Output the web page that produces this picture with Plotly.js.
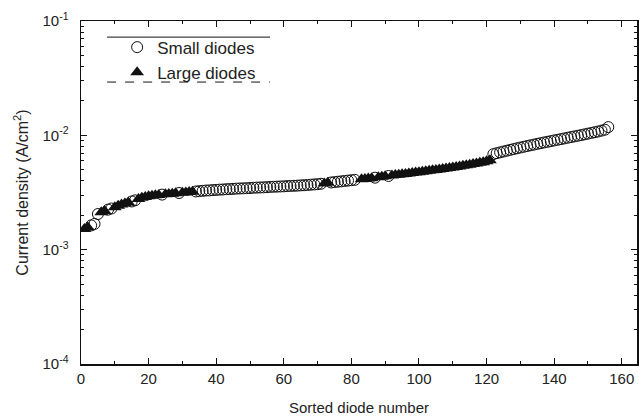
<!DOCTYPE html>
<html>
<head>
<meta charset="utf-8">
<script src="https://cdn.plot.ly/plotly-3.0.1.min.js"></script>
<style>html,body{margin:0;padding:0;background:#fff;}#chart{width:639px;height:418px;}</style>
</head>
<body>
<div id="chart"></div>
<script>
// Small diodes (open circles): sorted diode number and current density (A/cm^2)
const smallN = [3,4,5,8,9,15,16,24,29,34,
  35,36,37,38,39,40,41,42,43,44,45,46,47,48,49,50,51,52,53,54,55,56,57,58,59,60,61,62,63,64,65,66,67,68,69,70,71,
  74,75,76,77,78,79,80,81,87,91,
  122,123,124,125,126,127,128,129,130,131,132,133,134,135,136,137,138,139,140,141,142,143,144,145,146,147,148,149,150,151,152,153,154,155,156];
const smallJ = [1.63e-3,1.68e-3,2.05e-3,2.24e-3,2.29e-3,2.64e-3,2.70e-3,3.03e-3,3.13e-3,3.23e-3,
  3.25e-3,3.27e-3,3.29e-3,3.30e-3,3.32e-3,3.33e-3,3.35e-3,3.36e-3,3.38e-3,3.39e-3,3.40e-3,3.42e-3,3.43e-3,3.44e-3,3.45e-3,3.46e-3,3.48e-3,3.49e-3,3.50e-3,3.51e-3,3.52e-3,3.54e-3,3.55e-3,3.56e-3,3.57e-3,3.58e-3,3.60e-3,3.61e-3,3.62e-3,3.63e-3,3.65e-3,3.66e-3,3.68e-3,3.70e-3,3.72e-3,3.74e-3,3.77e-3,
  3.87e-3,3.90e-3,3.93e-3,3.96e-3,3.99e-3,4.02e-3,4.05e-3,4.08e-3,4.26e-3,4.41e-3,
  6.85e-3,6.98e-3,7.10e-3,7.22e-3,7.34e-3,7.46e-3,7.58e-3,7.70e-3,7.82e-3,7.94e-3,8.06e-3,8.18e-3,8.30e-3,8.42e-3,8.54e-3,8.66e-3,8.78e-3,8.90e-3,9.02e-3,9.14e-3,9.27e-3,9.40e-3,9.53e-3,9.66e-3,9.79e-3,9.92e-3,10.05e-3,10.2e-3,10.35e-3,10.5e-3,10.65e-3,10.8e-3,11.0e-3,11.2e-3,11.8e-3];

// Large diodes (filled triangles)
const largeN = [1,2,6,7,10,11,12,13,14,17,18,19,20,21,22,23,25,26,27,28,30,31,32,33,
  72,73,83,84,85,86,88,89,90,
  92,93,94,95,96,97,98,99,100,101,102,103,104,105,106,107,108,109,110,111,112,113,114,115,116,117,118,119,120,121];
const largeJ = [1.52e-3,1.57e-3,2.12e-3,2.18e-3,2.35e-3,2.42e-3,2.48e-3,2.53e-3,2.58e-3,2.78e-3,2.84e-3,2.89e-3,2.93e-3,2.96e-3,2.99e-3,3.01e-3,3.05e-3,3.07e-3,3.09e-3,3.11e-3,3.15e-3,3.17e-3,3.19e-3,3.21e-3,
  3.80e-3,3.84e-3,4.12e-3,4.16e-3,4.19e-3,4.22e-3,4.30e-3,4.34e-3,4.38e-3,
  4.45e-3,4.49e-3,4.53e-3,4.56e-3,4.60e-3,4.64e-3,4.68e-3,4.72e-3,4.76e-3,4.80e-3,4.85e-3,4.89e-3,4.94e-3,4.98e-3,5.03e-3,5.08e-3,5.13e-3,5.18e-3,5.23e-3,5.29e-3,5.35e-3,5.41e-3,5.47e-3,5.53e-3,5.60e-3,5.67e-3,5.75e-3,5.83e-3,5.92e-3,6.05e-3];

const yTickVals = [1e-4, 1e-3, 1e-2, 1e-1];
const yTickText = ['10<sup>-4</sup>', '10<sup>-3</sup>', '10<sup>-2</sup>', '10<sup>-1</sup>'];
const xTickVals = [0,20,40,60,80,100,120,140,160];
const seriesNames = ['Small diodes', 'Large diodes'];

const FONT = 'Liberation Sans, Arial, sans-serif';
const traces = [
  {x: smallN, y: smallJ, name: seriesNames[0], type: 'scatter', mode: 'markers',
   marker: {symbol: 'circle', size: 11, color: 'rgba(255,255,255,0)', line: {color: '#111', width: 1}}},
  {x: largeN, y: largeJ, name: seriesNames[1], type: 'scatter', mode: 'markers',
   marker: {symbol: 'triangle-up', size: 12, color: '#111', line: {width: 0}}}
];

const layout = {
  width: 639, height: 418,
  margin: {l: 81, r: 2, t: 21, b: 54},
  paper_bgcolor: '#fff', plot_bgcolor: '#fff',
  font: {family: FONT, size: 15, color: '#222'},
  showlegend: true,
  legend: {x: 0.065, y: 0.975, xanchor: 'left', yanchor: 'top', bgcolor: 'rgba(0,0,0,0)',
           font: {family: FONT, size: 17, color: '#222'}, tracegroupgap: 0, itemwidth: 30},
  xaxis: {
    range: [0, 164.5], tickvals: xTickVals, ticks: 'inside', ticklen: 6, tickwidth: 1, tickcolor: '#111',
    showline: true, linecolor: '#111', linewidth: 1.5, mirror: 'allticks', showgrid: false, zeroline: false,
    minor: {dtick: 10, tick0: 0, ticks: 'inside', ticklen: 3, tickcolor: '#111', showgrid: false},
    title: {text: 'Sorted diode number', font: {family: FONT, size: 15, color: '#222'}, standoff: 17},
    tickfont: {family: FONT, size: 15, color: '#222'}
  },
  yaxis: {
    type: 'log', range: [-4, -1], tickvals: yTickVals, ticktext: yTickText,
    ticks: 'inside', ticklen: 6, tickwidth: 1, tickcolor: '#111', ticklabelstandoff: 8,
    showline: true, linecolor: '#111', linewidth: 1.5, mirror: 'allticks', showgrid: false, zeroline: false,
    minor: {dtick: 'D1', ticks: 'inside', ticklen: 3, tickcolor: '#111', showgrid: false},
    title: {text: 'Current density (A/cm<sup>2</sup>)', font: {family: FONT, size: 16, color: '#222'}, standoff: 10},
    tickfont: {family: FONT, size: 15, color: '#222'}
  },
  shapes: [
    {type: 'line', xref: 'paper', yref: 'paper', x0: 0.047, x1: 0.34, y0: 0.953, y1: 0.953,
     line: {color: '#111', width: 1}},
    {type: 'line', xref: 'paper', yref: 'paper', x0: 0.047, x1: 0.34, y0: 0.822, y1: 0.822,
     line: {color: '#111', width: 1, dash: 'dash'}}
  ]
};

Plotly.newPlot('chart', traces, layout, {displayModeBar: false, staticPlot: true});
</script>
</body>
</html>
